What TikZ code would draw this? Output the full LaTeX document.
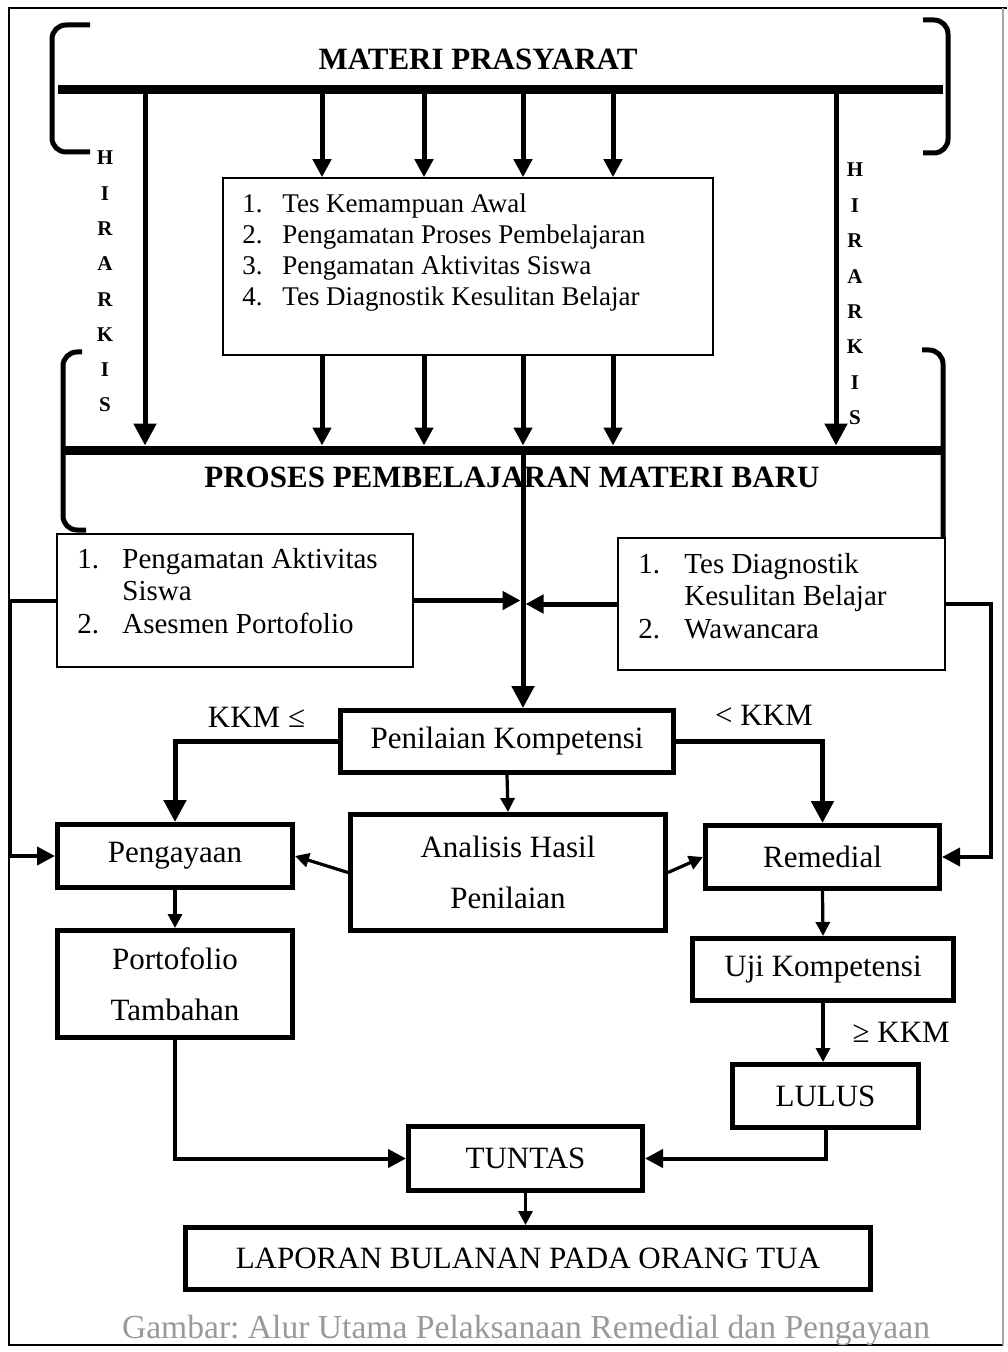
\documentclass[tikz,border=0pt]{standalone}
\usepackage{fontspec}
\setmainfont{Liberation Serif}
\usepackage{tikz}
\usetikzlibrary{arrows.meta}
\frenchspacing

\tikzset{
  bar/.style={line width=4.5pt},
  bracket/.style={line width=2.5pt, rounded corners=7pt},
  flow/.style={->, line width=2.5pt, >={Triangle[width=9pt,length=9pt]}},
  bigtip/.style={>={Triangle[width=11pt,length=11pt]}},
  smalltip/.style={line width=1.6pt, >={Triangle[width=7pt,length=7pt]}},
  listbox/.style={draw, line width=0.8pt, inner sep=0pt},
  stepbox/.style={draw, line width=2.5pt, inner sep=0pt, align=center,
    font=\fontsize{15.5}{25.5}\selectfont},
  txt/.style={inner sep=0pt, font=\fontsize{15.5}{18}\selectfont},
  heading/.style={inner sep=0pt, font=\fontsize{15.5}{18}\selectfont\bfseries},
  hlabel/.style={inner sep=0pt, font=\fontsize{10.5}{12}\selectfont\bfseries},
}

\begin{document}
\begin{tikzpicture}[x=0.5pt, y=-0.5pt]
        \useasboundingbox (0,0) rectangle (1007,1352);
        \draw[line width=1.4pt] (1007,8) -- (9,8) -- (9,1345) -- (1003,1345);
        \draw[line width=0.8pt, black!35] (1003,8) -- (1003,1345);

        \coordinate (top-w) at (58,90);
        \coordinate (top-e) at (943,90);
        \coordinate (mid-w) at (62,450);
        \coordinate (mid-e) at (945,450);
        \coordinate (hub) at (523,601);
        \coordinate (rail-l) at (10,0);
        \coordinate (rail-r) at (991,0);

        \draw[bar] (top-w) -- (top-e);
        \draw[bar] (mid-w) -- (mid-e);
        \node[heading] (prasyarat) at (478,59) {MATERI PRASYARAT};
        \node[heading] (proses) at (512,477) {PROSES PEMBELAJARAN MATERI BARU};

        \draw[bracket] (90,25) -- (52,25) -- (52,152) -- (90,152);
        \draw[bracket] (923,20) -- (948,20) -- (948,153) -- (923,153);
        \draw[bracket] (82,352) -- (63,352) -- (63,530) -- (86,530);
        \draw[bracket] (922,350) -- (943,350) -- (943,538);

        \foreach \ch [count=\i] in {H,I,R,A,R,K,I,S} {
            \node[hlabel] (hl-\i) at ({105},{158+35.3*(\i-1)}) {\ch};
            \node[hlabel] (hr-\i) at ({855},{170+35.4*(\i-1)}) {\ch};
        }

        \node[listbox, minimum width=245pt, minimum height=88.5pt] (tes) at (468,266.5) {};
        \node[txt, anchor=base west, font=\fontsize{13.5}{15.35}\selectfont] (tes-list) at (242,213)
            {\begin{tabular}[t]{@{}p{20pt}@{}l@{}}
             1. & Tes Kemampuan Awal\\
             2. & Pengamatan Proses Pembelajaran\\
             3. & Pengamatan Aktivitas Siswa\\
             4. & Tes Diagnostik Kesulitan Belajar
             \end{tabular}};

        \node[listbox, minimum width=178pt, minimum height=66.5pt] (obs) at (235,600.5) {};
        \node[txt, anchor=base west, font=\fontsize{14.5}{16.25}\selectfont] (obs-list) at (77,568)
            {\begin{tabular}[t]{@{}p{22.5pt}@{}l@{}}
             1. & Pengamatan Aktivitas\\
                & Siswa\\
             2. & Asesmen Portofolio
             \end{tabular}};

        \node[listbox, minimum width=163.5pt, minimum height=66pt] (diag) at (781.5,604) {};
        \node[txt, anchor=base west, font=\fontsize{14.5}{16.25}\selectfont] (diag-list) at (638,573)
            {\begin{tabular}[t]{@{}p{23pt}@{}l@{}}
             1. & Tes Diagnostik\\
                & Kesulitan Belajar\\
             2. & Wawancara
             \end{tabular}};

        \node[stepbox, minimum width=166.5pt, minimum height=31pt] (nilai) at (507,741.5) {Penilaian Kompetensi};
        \node[stepbox, minimum width=157.5pt, minimum height=58pt] (analisis) at (508,872.5) {Analisis Hasil\\Penilaian};
        \node[stepbox, minimum width=117.5pt, minimum height=31.5pt] (kaya) at (175,856) {Pengayaan};
        \node[stepbox, minimum width=117.5pt, minimum height=53.5pt] (porto) at (175,984) {Portofolio\\Tambahan};
        \node[stepbox, minimum width=117pt, minimum height=31.5pt] (remed) at (822.5,857) {Remedial};
        \node[stepbox, minimum width=130.5pt, minimum height=31pt] (uji) at (823,969.5) {Uji Kompetensi};
        \node[stepbox, minimum width=93pt, minimum height=31.5pt] (lulus) at (825.5,1096) {LULUS};
        \node[stepbox, minimum width=117pt, minimum height=32pt] (tuntas) at (525.5,1158.5) {TUNTAS};
        \node[stepbox, minimum width=342.5pt, minimum height=31pt] (lapor) at (528,1258.5) {LAPORAN BULANAN PADA ORANG TUA};

        \draw[flow, bigtip, shorten >=2.25pt] (top-w -| 145,0) -- (mid-w -| 145,0);
        \draw[flow, bigtip, shorten >=2.25pt] (top-w -| 836,0) -- (mid-w -| 836,0);
        \foreach \x in {322,424,523,613} {
            \draw[flow] (top-w -| \x,0) -- (tes.north -| \x,0);
            \draw[flow, shorten >=2.25pt] (tes.south -| \x,0) -- (mid-w -| \x,0);
        }

        \draw[flow, bigtip] (mid-w -| hub) -- (nilai.north -| hub);
        \draw[flow, shorten >=1.25pt] (obs.east) -- (obs.east -| hub);
        \draw[flow, shorten >=1.25pt] (diag.west) -- (diag.west -| hub);

        \draw[flow, line width=2pt] (obs.west) -| (rail-l |- kaya.west) -- (kaya.west);
        \draw[flow, line width=2pt] (diag.east) -| (rail-r |- remed.east) -- (remed.east);

        \draw[flow, bigtip] (nilai.west) -| (kaya.north) node[txt, pos=0.25, above=6pt] (kkm-atas) {KKM ≤};
        \draw[flow, bigtip] (nilai.east) -| (remed.north) node[txt, pos=0.3, above=7pt] (kkm-bawah) {< KKM};

        \draw[flow, smalltip] (nilai.south) -- (analisis.north);
        \draw[flow, smalltip] (analisis.west) -- (kaya.east);
        \draw[flow, smalltip] (analisis.east) -- (remed.west);
        \draw[flow, smalltip] (kaya.south) -- (porto.north);
        \draw[flow, smalltip] (remed.south) -- (uji.north);
        \draw[flow, smalltip] (uji.south) -- (uji.south |- lulus.north) node[txt, midway, right=14pt] (kkm-lulus) {≥ KKM};
        \draw[flow, line width=2pt] (porto.south) |- (tuntas.west);
        \draw[flow, line width=2pt] (lulus.south) |- (tuntas.east);
        \draw[flow, smalltip] (tuntas.south) -- (tuntas.south |- lapor.north);

        \node[txt, text=black!40, font=\fontsize{16.8}{19}\selectfont] (caption) at (526,1330)
            {Gambar: Alur Utama Pelaksanaan Remedial dan Pengayaan};
\end{tikzpicture}
\end{document}
